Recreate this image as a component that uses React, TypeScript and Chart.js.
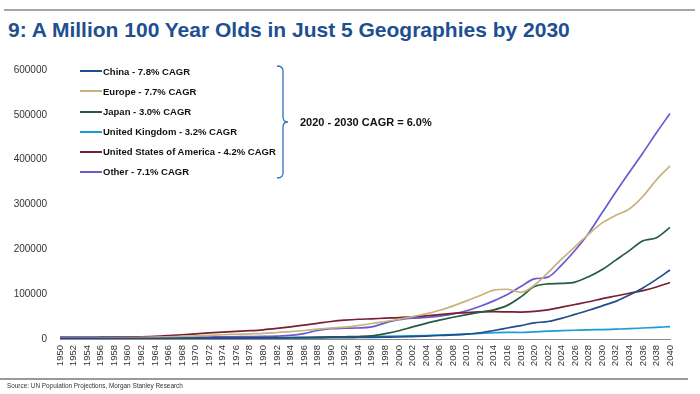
import React, { useEffect, useRef } from "react";
import { Chart, registerables } from "chart.js";

Chart.register(...registerables);

const years = [
  "1950", "1952", "1954", "1956", "1958", "1960", "1962", "1964", "1966", "1968",
  "1970", "1972", "1974", "1976", "1978", "1980", "1982", "1984", "1986", "1988",
  "1990", "1992", "1994", "1996", "1998", "2000", "2002", "2004", "2006", "2008",
  "2010", "2012", "2014", "2016", "2018", "2020", "2022", "2024", "2026", "2028",
  "2030", "2032", "2034", "2036", "2038", "2040",
];

const china = [
  1500, 1500, 1500, 1500, 1500, 1500, 1500, 1600, 1600, 1700,
  1800, 1900, 2000, 2100, 2200, 2300, 2400, 2500, 2600, 2700,
  2800, 3000, 3300, 3600, 4000, 4500, 5500, 6500, 7800, 9000,
  11000, 14000, 19000, 24500, 30000, 36000, 39000, 46000, 55000, 64000,
  74000, 84000, 98000, 114000, 133000, 154000,
];

const europe = [
  2000, 2000, 2200, 2400, 2700, 3000, 3500, 4000, 4800, 5800,
  7000, 8200, 9500, 10500, 11500, 12500, 14500, 16500, 19000, 22000,
  24500, 26500, 30000, 34500, 39000, 44000, 50000, 56000, 64000, 74000,
  85000, 97000, 109000, 111000, 104000, 120000, 148000, 178000, 206000, 234000,
  259000, 276000, 290000, 318000, 355000, 386000,
];

const japan = [
  1000, 1000, 1000, 1000, 1000, 1000, 1000, 1100, 1200, 1300,
  1400, 1600, 1800, 2000, 2300, 2600, 3000, 3400, 3800, 4200,
  4600, 5000, 5500, 7000, 12000, 18500, 27000, 35000, 42000, 48500,
  54500, 60000, 65000, 75000, 94000, 117000, 123000, 124000, 127000, 139000,
  155000, 176000, 197000, 219000, 226000, 249000,
];

const uk = [
  500, 500, 600, 700, 800, 900, 1000, 1100, 1200, 1300,
  1400, 1500, 1700, 1900, 2100, 2300, 2500, 2800, 3100, 3500,
  3900, 4300, 4700, 5200, 5700, 6300, 7000, 7800, 8800, 9800,
  11000, 12500, 14000, 15000, 14500, 16000, 17500, 18500, 19500, 20500,
  21000, 22000, 23000, 24500, 26000, 27500,
];

const usa = [
  3000, 3000, 3200, 3500, 3800, 4200, 4800, 5800, 7500, 9500,
  11500, 13500, 15500, 17000, 18500, 20500, 23500, 27000, 31000, 35000,
  39000, 42000, 44000, 45000, 46500, 47500, 49500, 51500, 54500, 57000,
  59000, 60500, 61000, 60500, 60000, 61500, 65000, 71000, 77000, 83000,
  90000, 96000, 102000, 108000, 116000, 126000,
];

const other = [
  4000, 4000, 4000, 4000, 4000, 4000, 4000, 4000, 4000, 4200,
  4300, 4500, 4700, 5000, 5300, 5700, 6500, 8000, 12000, 19000,
  23000, 24000, 24500, 27000, 36000, 43000, 46500, 48000, 51000, 56000,
  63000, 73000, 85000, 99000, 117000, 134000, 138000, 165000, 198000, 236000,
  282000, 328000, 372000, 415000, 460000, 503000,
];

const seriesLabels = [
  "China - 7.8% CAGR",
  "Europe - 7.7% CAGR",
  "Japan - 3.0% CAGR",
  "United Kingdom - 3.2% CAGR",
  "United States of America - 4.2% CAGR",
  "Other - 7.1% CAGR",
];
const seriesData = [china, europe, japan, uk, usa, other];
const seriesColors = ["#1f4e8c", "#c8b27e", "#255c3e", "#1c9bd7", "#7a1f33", "#6a5acd"];

const yMax = 600000;
const yStep = 100000;

const FONT = "'Liberation Sans', Arial, Helvetica, sans-serif";

export default function App() {
  const ref = useRef<HTMLCanvasElement | null>(null);

  useEffect(() => {
    if (!ref.current) return;
    const chart = new Chart(ref.current, {
      type: "line",
      data: {
        labels: years,
        datasets: seriesData.map((d, i) => ({
          label: seriesLabels[i],
          data: d,
          borderColor: seriesColors[i],
          backgroundColor: seriesColors[i],
          borderWidth: 1.7,
          pointRadius: 0,
          cubicInterpolationMode: "monotone" as const,
          fill: false,
        })),
      },
      options: {
        animation: false,
        responsive: false,
        maintainAspectRatio: false,
        layout: { padding: { left: 0, right: 30, top: 70, bottom: 15 } },
        plugins: { legend: { display: false }, tooltip: { enabled: false } },
        scales: {
          x: {
            type: "category",
            offset: false,
            grid: { display: false, drawTicks: false },
            border: { display: true, color: "#8c8c8c", width: 1 },
            ticks: {
              autoSkip: false,
              minRotation: 90,
              maxRotation: 90,
              padding: 6,
              color: "#333",
              font: { family: FONT, size: 9.5 },
            },
            afterFit: (s: any) => {
              s.height = 40;
            },
          },
          y: {
            min: 0,
            max: yMax,
            grid: { display: false, drawTicks: false },
            border: { display: false },
            ticks: {
              stepSize: yStep,
              padding: 13,
              color: "#333",
              font: { family: FONT, size: 10 },
              callback: (v: any) => String(v),
            },
            afterFit: (s: any) => {
              s.width = 60;
            },
          },
        },
      },
    });
    return () => chart.destroy();
  }, []);

  const legendTops = [71, 91, 111.5, 131.5, 151.5, 171.5];

  return (
    <div style={{ position: "fixed", left: 0, top: 0, width: 700, height: 394, background: "#fff", overflow: "hidden", fontFamily: FONT }}>
      <div style={{ position: "absolute", left: 4, top: 9, width: 691, height: 2, background: "#a6a6a6" }} />
      <div style={{ position: "absolute", left: 8, top: 19, fontSize: 21, lineHeight: "21px", fontWeight: 700, color: "#1d4f91", whiteSpace: "nowrap" }}>
        9: A Million 100 Year Olds in Just 5 Geographies by 2030
      </div>
      <canvas ref={ref} width={700} height={394} style={{ position: "absolute", left: 0, top: 0, width: 700, height: 394 }} />
      {seriesLabels.map((l, i) => (
        <div key={l} style={{ position: "absolute", left: 80, top: legendTops[i] - 6, height: 12, display: "flex", alignItems: "center", whiteSpace: "nowrap" }}>
          <div style={{ width: 22, height: 2, background: seriesColors[i], marginRight: 1 }} />
          <span style={{ fontSize: 9.5, fontWeight: 700, color: "#111" }}>{l}</span>
        </div>
      ))}
      <svg style={{ position: "absolute", left: 0, top: 0 }} width={700} height={394}>
        <path d="M277,66 Q283,66 283,71 L283,117 Q283,122 288,122 Q283,122 283,127 L283,173 Q283,178 277,178" fill="none" stroke="#2e75b6" strokeWidth={1.3} />
      </svg>
      <div style={{ position: "absolute", left: 300, top: 115, fontSize: 11, lineHeight: "14px", fontWeight: 700, color: "#111", whiteSpace: "nowrap" }}>
        2020 - 2030 CAGR = 6.0%
      </div>
      <div style={{ position: "absolute", left: 0, top: 378, width: 688, height: 1.5, background: "#9a9a9a" }} />
      <div style={{ position: "absolute", left: 7, top: 382, fontSize: 6.4, lineHeight: "8px", color: "#333", whiteSpace: "nowrap" }}>
        Source: UN Population Projections, Morgan Stanley Research
      </div>
    </div>
  );
}
